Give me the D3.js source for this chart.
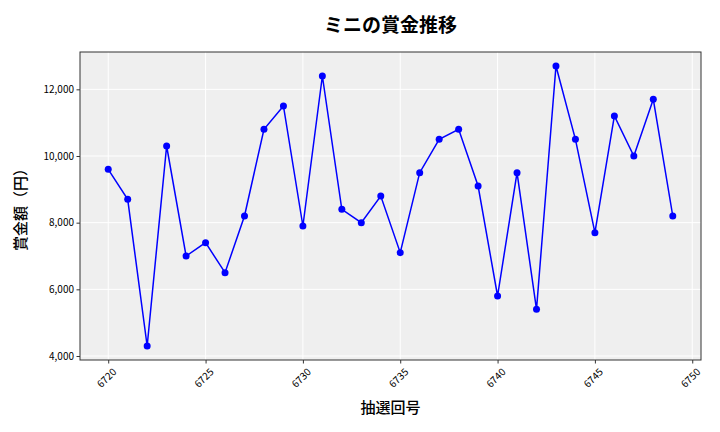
<!DOCTYPE html>
<html>
<head>
<meta charset="utf-8">
<script src="https://cdn.jsdelivr.net/npm/d3@7"></script>
<style>
  body { margin: 0; background: #fff; }
  text { font-family: "Noto Sans CJK JP", "Noto Sans", sans-serif; }
</style>
</head>
<body>
<div id="chart"></div>
<script>
// Chart size and plot area
const width = 720;
const height = 432;
const plot = { left: 80, top: 52, right: 701, bottom: 360 };

// Data
const draws = [6720, 6721, 6722, 6723, 6724, 6725, 6726, 6727, 6728, 6729,
    6730, 6731, 6732, 6733, 6734, 6735, 6736, 6737, 6738, 6739,
    6740, 6741, 6742, 6743, 6744, 6745, 6746, 6747, 6748, 6749];
const prizes = [9600, 8700, 4300, 10300, 7000, 7400, 6500, 8200, 10800, 11500,
    7900, 12400, 8400, 8000, 8800, 7100, 9500, 10500, 10800, 9100,
    5800, 9500, 5400, 12700, 10500, 7700, 11200, 10000, 11700, 8200];
const xTicks = [6720, 6725, 6730, 6735, 6740, 6745, 6750];
const yTicks = [4000, 6000, 8000, 10000, 12000];

const points = draws.map((d, i) => ({ draw: d, prize: prizes[i] }));

// 5% padding like matplotlib
const xMin = d3.min(draws), xMax = d3.max(draws);
const xPad = (xMax - xMin) * 0.05;
const yMin = d3.min(prizes), yMax = d3.max(prizes);
const yPad = (yMax - yMin) * 0.05;

const xScale = d3.scaleLinear()
    .domain([xMin - xPad, xMax + xPad])
    .range([plot.left, plot.right]);

const yScale = d3.scaleLinear()
    .domain([yMin - yPad, yMax + yPad])
    .range([plot.bottom, plot.top]);

const svg = d3.select('#chart')
    .append('svg')
    .attr('width', width)
    .attr('height', height);

// Plot background
svg.append('rect')
    .attr('x', plot.left)
    .attr('y', plot.top)
    .attr('width', plot.right - plot.left)
    .attr('height', plot.bottom - plot.top)
    .attr('fill', '#efefef');

// Grid lines
svg.append('g')
    .selectAll('line')
    .data(xTicks)
    .enter()
    .append('line')
    .attr('x1', d => xScale(d))
    .attr('x2', d => xScale(d))
    .attr('y1', plot.top)
    .attr('y2', plot.bottom)
    .attr('stroke', '#fff')
    .attr('stroke-width', 1);

svg.append('g')
    .selectAll('line')
    .data(yTicks)
    .enter()
    .append('line')
    .attr('x1', plot.left)
    .attr('x2', plot.right)
    .attr('y1', d => yScale(d))
    .attr('y2', d => yScale(d))
    .attr('stroke', '#fff')
    .attr('stroke-width', 1);

// Axes
const xAxis = d3.axisBottom(xScale)
    .tickValues(xTicks)
    .tickFormat(d3.format('d'))
    .tickSize(3.5)
    .tickSizeOuter(0);

const yAxis = d3.axisLeft(yScale)
    .tickValues(yTicks)
    .tickFormat(d3.format(','))
    .tickSize(3.5)
    .tickSizeOuter(0);

const gx = svg.append('g')
    .attr('transform', `translate(0, ${plot.bottom})`)
    .call(xAxis);
gx.select('.domain').remove();
gx.selectAll('line').attr('stroke', '#333');
// rotated labels centred under each tick
gx.selectAll('text')
    .attr('font-size', 10)
    .attr('fill', '#000')
    .attr('text-anchor', 'middle')
    .attr('dy', '0.35em')
    .attr('y', 0)
    .attr('transform', 'translate(-2, 18) rotate(-45)');

const gy = svg.append('g')
    .attr('transform', `translate(${plot.left}, 0)`)
    .call(yAxis);
gy.select('.domain').remove();
gy.selectAll('line').attr('stroke', '#333');
gy.selectAll('text')
    .attr('font-size', 10)
    .attr('fill', '#000')
    .attr('x', -6);

// Frame
svg.append('rect')
    .attr('x', plot.left)
    .attr('y', plot.top)
    .attr('width', plot.right - plot.left)
    .attr('height', plot.bottom - plot.top)
    .attr('fill', 'none')
    .attr('stroke', '#333')
    .attr('stroke-width', 1);

// Line and markers
const line = d3.line()
    .x(d => xScale(d.draw))
    .y(d => yScale(d.prize));

svg.append('path')
    .datum(points)
    .attr('d', line)
    .attr('fill', 'none')
    .attr('stroke', '#0000ff')
    .attr('stroke-width', 1.5);

svg.selectAll('.dot')
    .data(points)
    .enter()
    .append('circle')
    .attr('class', 'dot')
    .attr('cx', d => xScale(d.draw))
    .attr('cy', d => yScale(d.prize))
    .attr('r', 3.5)
    .attr('fill', '#0000ff');

// Title and labels
svg.append('text')
    .attr('x', (plot.left + plot.right) / 2)
    .attr('y', 32)
    .attr('text-anchor', 'middle')
    .attr('font-size', 19)
    .attr('font-weight', 'bold')
    .text('ミニの賞金推移');

svg.append('text')
    .attr('x', (plot.left + plot.right) / 2)
    .attr('y', 413)
    .attr('text-anchor', 'middle')
    .attr('font-size', 15)
    .attr('font-weight', 500)
    .text('抽選回号');

svg.append('text')
    .attr('transform', 'rotate(-90)')
    .attr('x', -(plot.top + plot.bottom) / 2)
    .attr('y', 26)
    .attr('text-anchor', 'middle')
    .attr('font-size', 15)
    .attr('font-weight', 500)
    .text('賞金額（円）');
</script>
</body>
</html>
